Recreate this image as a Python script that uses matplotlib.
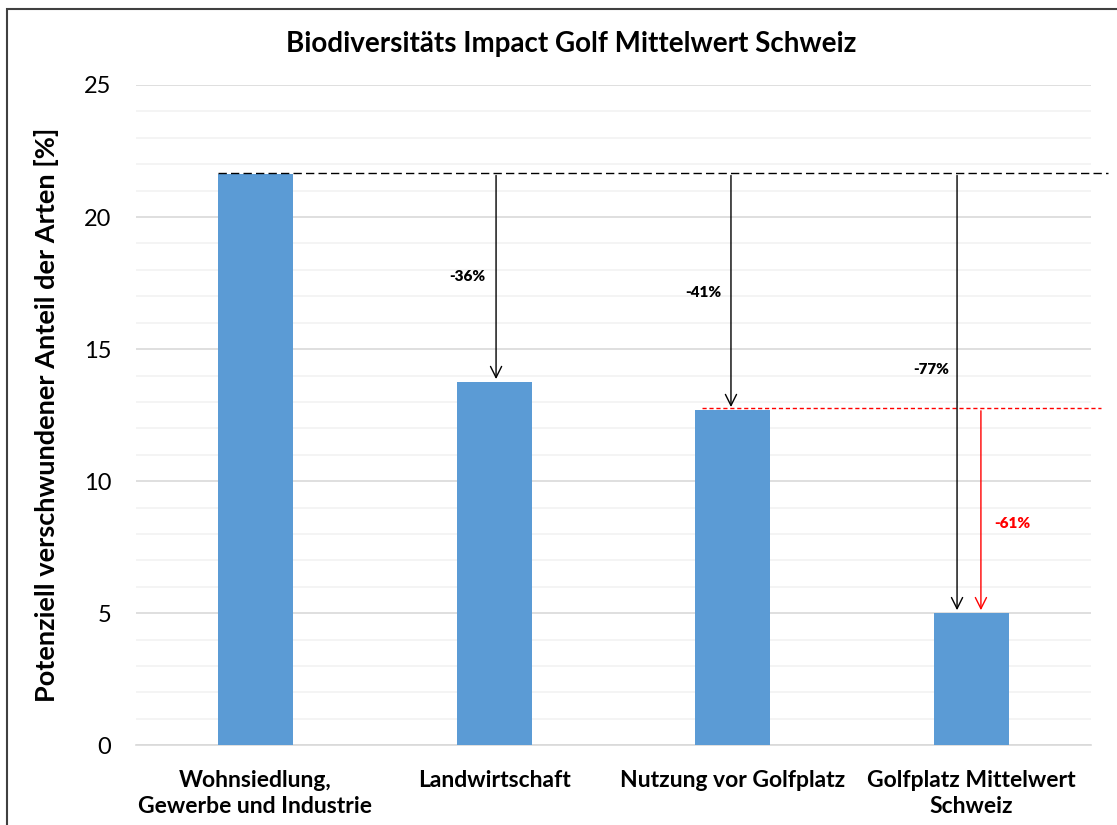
import matplotlib
matplotlib.use("Agg")
import matplotlib.pyplot as plt
from matplotlib.patches import Rectangle

# Daten
kategorien = ["Wohnsiedlung,\nGewerbe und Industrie", "Landwirtschaft",
              "Nutzung vor Golfplatz", "Golfplatz Mittelwert\nSchweiz"]
werte = [21.62, 13.76, 12.70, 5.01]
y_ticks = [0, 5, 10, 15, 20, 25]


def main():
    plt.rcParams['font.family'] = ['Lato', 'DejaVu Sans']

    fig = plt.figure(figsize=(11.17, 8.25), dpi=100)
    ax = fig.add_axes([0.1218, 0.0966, 0.8549, 0.8004])

    x = range(len(werte))
    ax.bar(x, werte, width=0.314, color='#5b9bd5', zorder=3)

    ax.set_xlim(-0.5, 3.5)
    ax.set_ylim(0, 25)
    ax.set_yticks(y_ticks)
    ax.set_yticks(range(0, 26), minor=True)
    ax.grid(axis='y', which='major', color='#d9d9d9', linewidth=1.2, zorder=0)
    ax.grid(axis='y', which='minor', color='#f2f2f2', linewidth=1.2, zorder=0)
    ax.tick_params(axis='y', which='both', length=0, pad=18, labelsize=17)
    ax.tick_params(axis='x', length=0, pad=18, labelsize=16.5)
    ax.set_xticks(list(x))
    ax.set_xticklabels(kategorien, fontweight='bold', linespacing=1.3)
    for s in ['top', 'right', 'left']:
        ax.spines[s].set_visible(False)
    ax.spines['bottom'].set_color('#d9d9d9')
    ax.spines['bottom'].set_linewidth(1.2)

    ax.set_ylabel('Potenziell verschwundener Anteil der Arten [%]',
                  fontsize=19.5, fontweight='bold', labelpad=18)
    fig.suptitle('Biodiversitäts Impact Golf Mittelwert Schweiz',
                 fontsize=20, fontweight='bold', x=0.511, y=0.962)

    ref = werte[0]
    ref2 = werte[2]
    # Referenzlinien
    ax.plot([-0.157, 3.571], [ref + 0.06, ref + 0.06], ls=(0, (6, 3)),
            color='black', lw=1, clip_on=False, zorder=4)
    ax.plot([1.871, 3.542], [ref2 + 0.07, ref2 + 0.07], ls=(0, (3, 2)),
            color='red', lw=1, clip_on=False, zorder=4)

    # Pfeile und Prozentangaben
    pfeil_x = [1.008, 1.992, 2.939]
    text_pos = [(0.886, 17.73), (1.875, 17.13), (2.83, 14.21)]
    for i, (px, (tx, ty)) in enumerate(zip(pfeil_x, text_pos)):
        v = werte[i + 1]
        ax.annotate('', xy=(px, v), xytext=(px, ref + 0.06),
                    arrowprops=dict(arrowstyle='->,head_length=0.8,head_width=0.4',
                                    color='black', lw=1), zorder=5)
        pct = round((v - ref) / ref * 100)
        ax.text(tx, ty, f'{pct}%', fontsize=11, fontweight='heavy',
                ha='center', va='center', zorder=6)

    v = werte[3]
    ax.annotate('', xy=(3.039, v), xytext=(3.039, ref2 + 0.07),
                arrowprops=dict(arrowstyle='->,head_length=0.8,head_width=0.4',
                                color='red', lw=1), zorder=5)
    pct = round((v - ref2) / ref2 * 100)
    ax.text(3.17, 8.38, f'{pct}%', fontsize=11, fontweight='heavy',
            color='red', ha='center', va='center', zorder=6)

    # Rahmen
    fig.patches.append(Rectangle((7 / 1117, -0.01), 1.02, 1 - 9 / 825 + 0.01,
                                 transform=fig.transFigure, fill=False,
                                 edgecolor='#404040', linewidth=1.5))

    fig.savefig('out.png', dpi=100)


if __name__ == '__main__':
    main()
